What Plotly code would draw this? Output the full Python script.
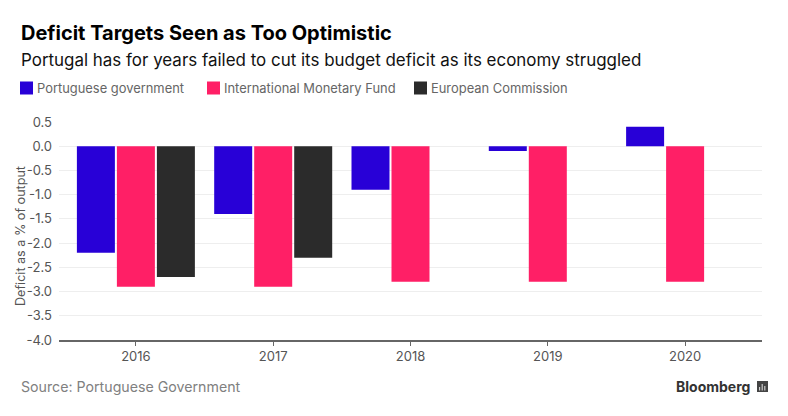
import plotly.graph_objects as go

years = ["2016", "2017", "2018", "2019", "2020"]
portuguese_government = [-2.2, -1.4, -0.9, -0.1, 0.4]
imf = [-2.9, -2.9, -2.8, -2.8, -2.8]
european_commission = [-2.7, -2.3, None, None, None]
y_ticks = [0.5, 0.0, -0.5, -1.0, -1.5, -2.0, -2.5, -3.0, -3.5, -4.0]
y_tick_labels = ["0.5", "0.0", "-0.5", "-1.0", "-1.5", "-2.0", "-2.5", "-3.0", "-3.5", "-4.0"]

W, H = 788, 416
OFF = 8  # the page's own margin
L, R, T, B = 59, 762, 122, 340
FONT = "Inter"

def px(x): return (x - L) / (R - L)
def py(y): return (B - y) / (B - T)

fig = go.Figure()
for name, vals, col in [("Portuguese government", portuguese_government, "#2800d7"),
                        ("International Monetary Fund", imf, "#ff1f66"),
                        ("European Commission", european_commission, "#2b2b2b")]:
    fig.add_bar(name=name, x=years, y=vals, marker=dict(color=col, line_width=0), showlegend=False)

annotations = [
    dict(text="<b>Deficit Targets Seen as Too Optimistic</b>", x=18.5, y=33, size=20, color="#000000"),
    dict(text="Portugal has for years failed to cut its budget deficit as its economy struggled", x=18.5, y=60, size=16.95, color="#111111"),
    dict(text="Portuguese government", x=34.5, y=88, size=12.9, color="#666666"),
    dict(text="International Monetary Fund", x=221.5, y=88, size=12.9, color="#666666"),
    dict(text="European Commission", x=429.5, y=88, size=12.9, color="#666666"),
    dict(text="Source: Portuguese Government", x=18.5, y=387, size=14.2, color="#808080"),
]
anns = [dict(text=a["text"], x=px(a["x"]), y=py(a["y"]), xref="paper", yref="paper",
             xanchor="left", yanchor="middle", showarrow=False,
             font=dict(family=FONT, size=a["size"], color=a["color"])) for a in annotations]
anns.append(dict(text="<b>Bloomberg</b>", x=px(752), y=py(386.5), xref="paper", yref="paper",
                 xanchor="right", yanchor="middle", showarrow=False,
                 font=dict(family=FONT, size=14, color="#333333")))
anns.append(dict(text="Deficit as a % of output", x=px(20), y=py(236), xref="paper", yref="paper",
                 textangle=-90, xanchor="center", yanchor="middle", showarrow=False,
                 font=dict(family=FONT, size=12.6, color="#555555")))

shapes = []
for x0, col in [(20, "#2800d7"), (207, "#ff1f66"), (414, "#2b2b2b")]:
    shapes.append(dict(type="rect", xref="paper", yref="paper", x0=px(x0), x1=px(x0 + 13),
                       y0=py(94.5), y1=py(81.5), fillcolor=col, line_width=0))
# Bloomberg logo
shapes.append(dict(type="rect", xref="paper", yref="paper", x0=px(757), x1=px(768),
                   y0=py(392), y1=py(381), fillcolor="#444444", line_width=0))
for x0, top in [(759, 387), (761.6, 384), (764.2, 386)]:
    shapes.append(dict(type="rect", xref="paper", yref="paper", x0=px(x0), x1=px(x0 + 1.2),
                       y0=py(390.5), y1=py(top), fillcolor="#cccccc", line_width=0))

fig.update_layout(
    width=W - OFF, height=H - OFF, autosize=False,
    margin=dict(l=L - OFF, r=W - R, t=T - OFF, b=H - B, pad=0, autoexpand=False),
    paper_bgcolor="white", plot_bgcolor="white",
    barmode="group", bargap=0.126, bargroupgap=0.05,
    font=dict(family=FONT, size=13, color="#555555"),
    annotations=anns, shapes=shapes, showlegend=False,
    xaxis=dict(type="category", range=[-0.56, 4.56], showgrid=False, zeroline=False, automargin=False,
               showline=True, linecolor="#666666", linewidth=1.5,
               ticks="outside", ticklen=4, tickcolor="#666666", tickwidth=1,
               tickfont=dict(family=FONT, size=13, color="#555555")),
    yaxis=dict(range=[-4.0, 0.5], tickvals=y_ticks, ticktext=y_tick_labels, showgrid=True, automargin=False,
               gridcolor="#eeeeee", gridwidth=1, zeroline=False, showline=False, ticks="",
               ticklabelstandoff=6,
               tickfont=dict(family=FONT, size=13, color="#555555")),
)
fig.write_html("out.html")
